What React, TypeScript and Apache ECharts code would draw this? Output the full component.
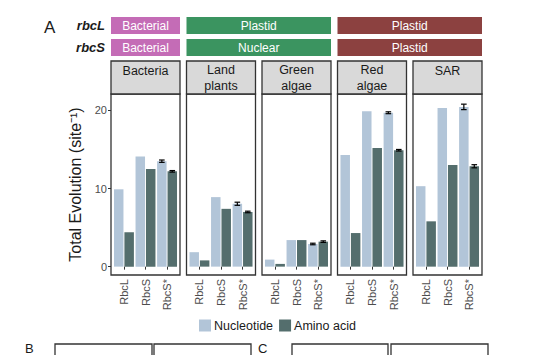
import React, { useEffect, useRef } from "react";
import * as echarts from "echarts";

// ---- data ----
const panels = ["Bacteria", "Land\nplants", "Green\nalgae", "Red\nalgae", "SAR"];
const genes = ["RbcL", "RbcS", "RbcS*"];
const nucleotide = [
  [9.9, 14.1, 13.5],
  [1.85, 8.9, 8.05],
  [0.9, 3.4, 2.9],
  [14.3, 19.9, 19.7],
  [10.3, 20.3, 20.45],
];
const aminoAcid = [
  [4.4, 12.5, 12.2],
  [0.8, 7.4, 7.0],
  [0.35, 3.4, 3.2],
  [4.3, 15.2, 14.9],
  [5.8, 13.0, 12.85],
];
// error (±) only on RbcS*
const nucleotideErr = [0.15, 0.2, 0.1, 0.12, 0.35];
const aminoErr = [0.1, 0.1, 0.1, 0.1, 0.2];
const yTicks = [0, 10, 20];
const rbcLOrigin = [
  { label: "Bacterial", from: 0, to: 0, color: "#C46CB6" },
  { label: "Plastid", from: 1, to: 2, color: "#3B9460" },
  { label: "Plastid", from: 3, to: 4, color: "#8C4140" },
];
const rbcSOrigin = [
  { label: "Bacterial", from: 0, to: 0, color: "#C46CB6" },
  { label: "Nuclear", from: 1, to: 2, color: "#3B9460" },
  { label: "Plastid", from: 3, to: 4, color: "#8C4140" },
];

// ---- layout ----
const FONT = "Liberation Sans, Arial, Helvetica, sans-serif";
const PANEL_LEFT0 = 111;
const PANEL_STEP = 75.5;
const PANEL_W = 69;
const HEAD_TOP = 61;
const PLOT_TOP = 94;
const PLOT_BOTTOM = 275;
const Y_MIN = -1.07;
const Y_MAX = 22.1;
const NT_COLOR = "#B2C5D8";
const AA_COLOR = "#546E6D";
const BAR_W = 0.44;
const BAR_GAP = 0.1;

export default function App() {
  const ref = useRef<HTMLDivElement>(null);
  useEffect(() => {
    if (!ref.current) return;
    const chart = echarts.init(ref.current, undefined, { renderer: "svg" });
    const band = PANEL_W / 3.2;
    const grids: any[] = [];
    const xAxes: any[] = [];
    const yAxes: any[] = [];
    const series: any[] = [];
    const graphic: any[] = [];

    panels.forEach((p, i) => {
      const pl = PANEL_LEFT0 + i * PANEL_STEP;
      grids.push({
        left: pl + 0.1 * band,
        width: 3 * band,
        top: PLOT_TOP,
        height: PLOT_BOTTOM - PLOT_TOP,
      });
      xAxes.push({
        type: "category",
        gridIndex: i,
        data: genes,
        axisLine: { show: false },
        axisTick: { show: true, length: 3, alignWithLabel: true, lineStyle: { color: "#333", width: 1 } },
        axisLabel: { rotate: 90, fontSize: 11, color: "#4d4d4d", margin: 4, fontFamily: FONT },
      });
      yAxes.push({
        type: "value",
        gridIndex: i,
        min: Y_MIN,
        max: Y_MAX,
        offset: 0.1 * band,
        splitLine: { show: false },
        axisLine: { show: false },
        axisTick: {
          show: i === 0,
          length: 3,
          customValues: yTicks,
          lineStyle: { color: "#333", width: 1 },
        },
        axisLabel: {
          show: i === 0,
          customValues: yTicks,
          fontSize: 11,
          color: "#4d4d4d",
          margin: 4,
          fontFamily: FONT,
        },
        name: i === 0 ? "Total Evolution (site⁻¹)" : "",
        nameLocation: "middle",
        nameGap: 28,
        nameTextStyle: { fontSize: 16, color: "#1a1a1a", fontFamily: FONT },
      });
      series.push({
        type: "bar",
        name: "Nucleotide",
        xAxisIndex: i,
        yAxisIndex: i,
        data: nucleotide[i],
        barWidth: BAR_W * 100 + "%",
        barGap: BAR_GAP * 100 + "%",
        itemStyle: { color: NT_COLOR },
      });
      series.push({
        type: "bar",
        name: "Amino acid",
        xAxisIndex: i,
        yAxisIndex: i,
        data: aminoAcid[i],
        barWidth: BAR_W * 100 + "%",
        barGap: BAR_GAP * 100 + "%",
        itemStyle: { color: AA_COLOR },
      });
      const k = 2;
      series.push({
        type: "custom",
        xAxisIndex: i,
        yAxisIndex: i,
        z: 10,
        silent: true,
        data: [
          [k, nucleotide[i][k] - nucleotideErr[i], nucleotide[i][k] + nucleotideErr[i], 0],
          [k, aminoAcid[i][k] - aminoErr[i], aminoAcid[i][k] + aminoErr[i], 1],
        ],
        renderItem: (params: any, api: any) => {
          const cat = api.value(0);
          const lo = api.value(1);
          const hi = api.value(2);
          const which = api.value(3);
          const bw = api.size([1, 0])[0];
          const off = (which === 0 ? -1 : 1) * bw * (BAR_W + BAR_W * BAR_GAP) / 2;
          const pLo = api.coord([cat, lo]);
          const pHi = api.coord([cat, hi]);
          const x = pLo[0] + off;
          const c = 2.8;
          const st = { stroke: "#000", lineWidth: 1.2 };
          return {
            type: "group",
            children: [
              { type: "line", shape: { x1: x, y1: pLo[1], x2: x, y2: pHi[1] }, style: st },
              { type: "line", shape: { x1: x - c, y1: pLo[1], x2: x + c, y2: pLo[1] }, style: st },
              { type: "line", shape: { x1: x - c, y1: pHi[1], x2: x + c, y2: pHi[1] }, style: st },
            ],
          };
        },
      });

      // panel border
      graphic.push({
        type: "rect",
        z: 100,
        shape: { x: pl, y: PLOT_TOP, width: PANEL_W, height: PLOT_BOTTOM - PLOT_TOP },
        style: { fill: "none", stroke: "#333", lineWidth: 1.3 },
        silent: true,
      });
      // header
      graphic.push({
        type: "rect",
        z: 100,
        shape: { x: pl, y: HEAD_TOP, width: PANEL_W, height: PLOT_TOP - HEAD_TOP },
        style: { fill: "#D9D9D9", stroke: "#333", lineWidth: 1.3 },
        silent: true,
      });
      const twoLine = p.indexOf("\n") >= 0;
      graphic.push({
        type: "text",
        z: 101,
        x: pl + PANEL_W / 2,
        y: twoLine ? HEAD_TOP + 17 : HEAD_TOP + 10,
        style: {
          text: p,
          fill: "#1a1a1a",
          fontSize: 12.5,
          fontFamily: FONT,
          lineHeight: 15.5,
          align: "center",
          verticalAlign: "middle",
          textAlign: "center",
          textVerticalAlign: "middle",
        },
      });
    });

    const stripRow = (rows: typeof rbcLOrigin, y: number) => {
      rows.forEach((r) => {
        const x0 = PANEL_LEFT0 + r.from * PANEL_STEP;
        const x1 = PANEL_LEFT0 + r.to * PANEL_STEP + PANEL_W;
        graphic.push({
          type: "rect",
          shape: { x: x0, y, width: x1 - x0, height: 17 },
          style: { fill: r.color },
        });
        graphic.push({
          type: "text",
          x: (x0 + x1) / 2,
          y: y + 8.7,
          style: {
            text: r.label,
            fill: "#fff",
            fontSize: 12,
            fontFamily: FONT,
            align: "center",
            verticalAlign: "middle",
            textAlign: "center",
            textVerticalAlign: "middle",
          },
        });
      });
    };
    stripRow(rbcLOrigin, 17);
    stripRow(rbcSOrigin, 39);

    const leftLabel = (t: string, y: number) =>
      graphic.push({
        type: "text",
        x: 105,
        y,
        style: {
          text: t,
          fill: "#1a1a1a",
          fontSize: 13,
          fontWeight: "bold",
          fontStyle: "italic",
          fontFamily: FONT,
          align: "right",
          verticalAlign: "middle",
          textAlign: "right",
          textVerticalAlign: "middle",
        },
      });
    leftLabel("rbcL", 25.5);
    leftLabel("rbcS", 47.5);

    const bigLetter = (t: string, x: number, y: number, size: number, va: string) =>
      graphic.push({
        type: "text",
        x,
        y,
        style: {
          text: t,
          fill: "#1a1a1a",
          fontSize: size,
          fontFamily: FONT,
          align: "left",
          verticalAlign: va,
          textAlign: "left",
          textVerticalAlign: va,
        },
      });
    bigLetter("A", 44, 19, 17, "top");
    bigLetter("B", 25, 355, 13, "bottom");
    bigLetter("C", 258, 355, 13, "bottom");

    // fragments of the next figure rows (cut by the bottom edge)
    [
      [55, 97],
      [154, 97],
      [292, 96],
      [391, 97],
    ].forEach(([x, w]) =>
      graphic.push({
        type: "rect",
        shape: { x, y: 344, width: w, height: 30 },
        style: { fill: "#fff", stroke: "#333", lineWidth: 1.3 },
      })
    );

    chart.setOption({
      animation: false,
      textStyle: { fontFamily: FONT },
      grid: grids,
      xAxis: xAxes,
      yAxis: yAxes,
      series,
      graphic,
      legend: {
        data: ["Nucleotide", "Amino acid"],
        left: 199,
        top: 319,
        padding: 0,
        itemWidth: 12,
        itemHeight: 12,
        itemGap: 6,
        icon: "rect",
        textStyle: { fontSize: 12.5, color: "#1a1a1a", fontFamily: FONT, padding: [0, 0, 0, -2] },
      },
    });
    return () => chart.dispose();
  }, []);
  return (
    <div
      ref={ref}
      style={{ position: "fixed", left: 0, top: 0, width: 560, height: 355, background: "#fff" }}
    />
  );
}
